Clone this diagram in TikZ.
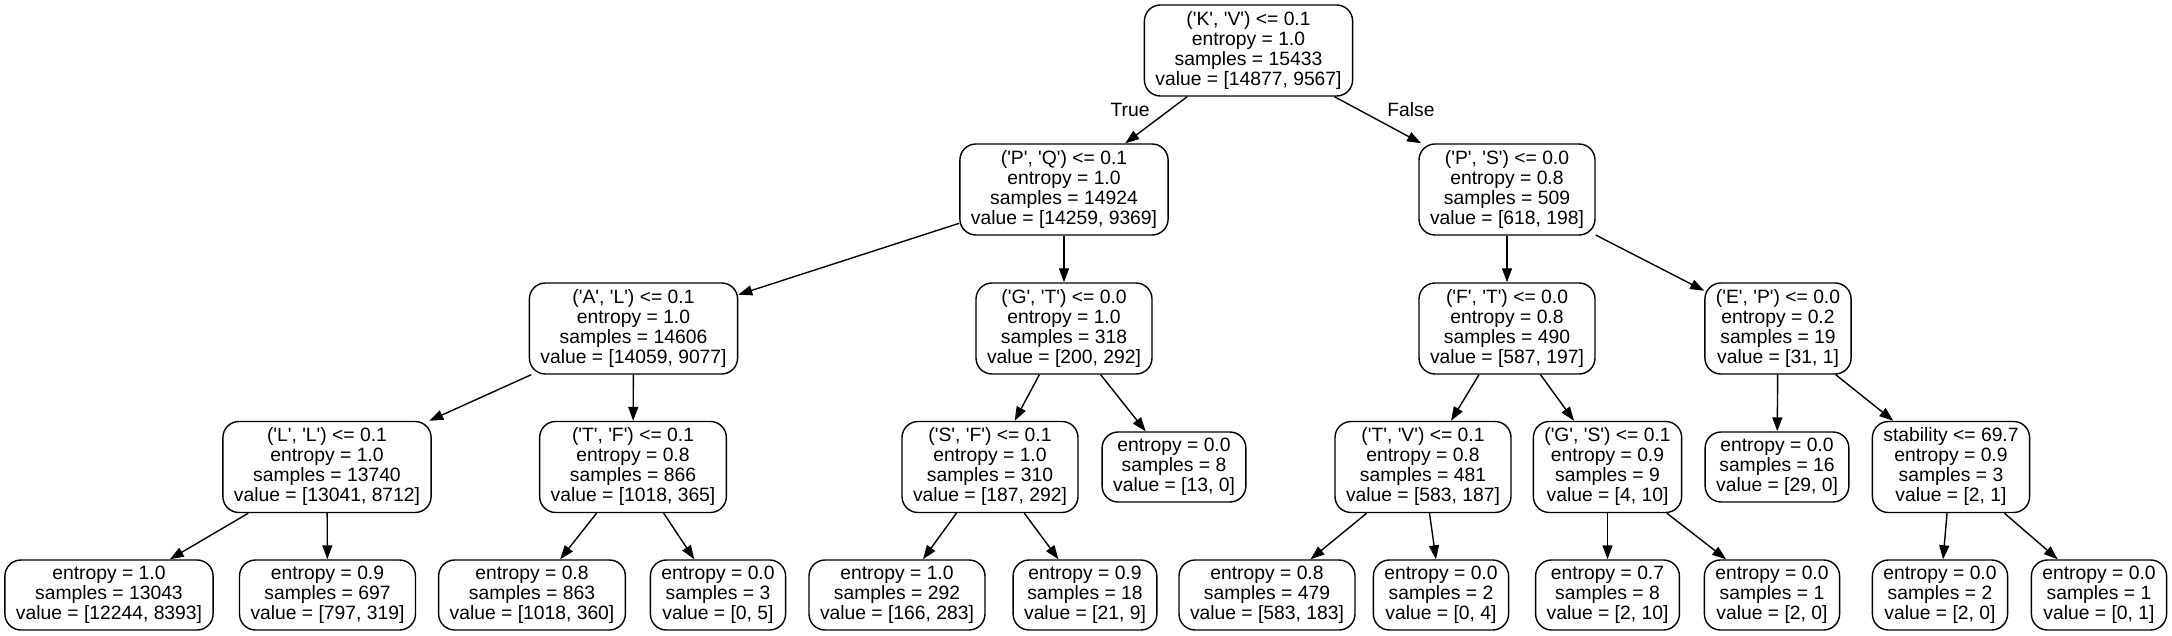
\documentclass[tikz,border=0pt]{standalone}
\usepackage{fontspec}
\newfontfamily\gv{Liberation Sans}[Ligatures=TeXOff]
\usetikzlibrary{arrows.meta}
\begin{document}
\begin{tikzpicture}[x=1pt,y=-1pt,
  gvfont/.style={font=\gv\fontsize{19.3pt}{20pt}\selectfont},
  tnode/.style={gvfont,draw,line width=1.4pt,rounded corners=16pt,align=center,inner xsep=11pt,inner ysep=2pt,minimum height=91pt},
  lnode/.style={tnode,minimum height=70pt},
  gvedge/.style={line width=1.4pt,-{Triangle[length=14pt,width=10pt]}},
  elabel/.style={gvfont,inner sep=0pt}]
\useasboundingbox (0,0) rectangle (2172,636);
% level 0
\node[tnode] (r) at (1248.5,50.5) {('K', 'V') <= 0.1\\entropy = 1.0\\samples = 15433\\value = [14877, 9567]};
% level 1
\node[tnode] (a) at (1064,189.5) {('P', 'Q') <= 0.1\\entropy = 1.0\\samples = 14924\\value = [14259, 9369]};
\node[tnode] (b) at (1507,189.5) {('P', 'S') <= 0.0\\entropy = 0.8\\samples = 509\\value = [618, 198]};
% level 2
\node[tnode] (aa) at (633.5,328.5) {('A', 'L') <= 0.1\\entropy = 1.0\\samples = 14606\\value = [14059, 9077]};
\node[tnode] (ab) at (1064,328.5) {('G', 'T') <= 0.0\\entropy = 1.0\\samples = 318\\value = [200, 292]};
\node[tnode] (ba) at (1507,328.5) {('F', 'T') <= 0.0\\entropy = 0.8\\samples = 490\\value = [587, 197]};
\node[tnode] (bb) at (1778,328.5) {('E', 'P') <= 0.0\\entropy = 0.2\\samples = 19\\value = [31, 1]};
% level 3
\node[tnode] (aaa) at (327,467) {('L', 'L') <= 0.1\\entropy = 1.0\\samples = 13740\\value = [13041, 8712]};
\node[tnode] (aab) at (633,467) {('T', 'F') <= 0.1\\entropy = 0.8\\samples = 866\\value = [1018, 365]};
\node[tnode] (aba) at (990,467) {('S', 'F') <= 0.1\\entropy = 1.0\\samples = 310\\value = [187, 292]};
\node[lnode] (abb) at (1174,467) {entropy = 0.0\\samples = 8\\value = [13, 0]};
\node[tnode] (baa) at (1423,467) {('T', 'V') <= 0.1\\entropy = 0.8\\samples = 481\\value = [583, 187]};
\node[tnode] (bab) at (1607.5,467) {('G', 'S') <= 0.1\\entropy = 0.9\\samples = 9\\value = [4, 10]};
\node[lnode] (bba) at (1777,467) {entropy = 0.0\\samples = 16\\value = [29, 0]};
\node[tnode] (bbb) at (1951,467) {stability <= 69.7\\entropy = 0.9\\samples = 3\\value = [2, 1]};
% level 4
\node[lnode] (aaaa) at (109,595) {entropy = 1.0\\samples = 13043\\value = [12244, 8393]};
\node[lnode] (aaab) at (327.5,595) {entropy = 0.9\\samples = 697\\value = [797, 319]};
\node[lnode] (aaba) at (532,595) {entropy = 0.8\\samples = 863\\value = [1018, 360]};
\node[lnode] (aabb) at (718,595) {entropy = 0.0\\samples = 3\\value = [0, 5]};
\node[lnode] (abaa) at (897,595) {entropy = 1.0\\samples = 292\\value = [166, 283]};
\node[lnode] (abab) at (1085,595) {entropy = 0.9\\samples = 18\\value = [21, 9]};
\node[lnode] (baaa) at (1267,595) {entropy = 0.8\\samples = 479\\value = [583, 183]};
\node[lnode] (baab) at (1441,595) {entropy = 0.0\\samples = 2\\value = [0, 4]};
\node[lnode] (baba) at (1607.5,595) {entropy = 0.7\\samples = 8\\value = [2, 10]};
\node[lnode] (babb) at (1772,595) {entropy = 0.0\\samples = 1\\value = [2, 0]};
\node[lnode] (bbba) at (1940,595) {entropy = 0.0\\samples = 2\\value = [2, 0]};
\node[lnode] (bbbb) at (2099,595) {entropy = 0.0\\samples = 1\\value = [0, 1]};
% edge labels
\node[elabel] (tl) at (1130,110) {True};
\node[elabel] (fl) at (1411,110) {False};
% edges
\draw[gvedge] (r) -- (a);
\draw[gvedge] (r) -- (b);
\draw[gvedge] (a) -- (aa);
\draw[gvedge] (a) -- (ab);
\draw[gvedge] (b) -- (ba);
\draw[gvedge] (b) -- (bb);
\draw[gvedge] (aa) -- (aaa);
\draw[gvedge] (aa) -- (aab);
\draw[gvedge] (ab) -- (aba);
\draw[gvedge] (ab) -- (abb);
\draw[gvedge] (ba) -- (baa);
\draw[gvedge] (ba) -- (bab);
\draw[gvedge] (bb) -- (bba);
\draw[gvedge] (bb) -- (bbb);
\draw[gvedge] (aaa) -- (aaaa);
\draw[gvedge] (aaa) -- (aaab);
\draw[gvedge] (aab) -- (aaba);
\draw[gvedge] (aab) -- (aabb);
\draw[gvedge] (aba) -- (abaa);
\draw[gvedge] (aba) -- (abab);
\draw[gvedge] (baa) -- (baaa);
\draw[gvedge] (baa) -- (baab);
\draw[gvedge] (bab) -- (baba);
\draw[gvedge] (bab) -- (babb);
\draw[gvedge] (bbb) -- (bbba);
\draw[gvedge] (bbb) -- (bbbb);
\end{tikzpicture}
\end{document}
